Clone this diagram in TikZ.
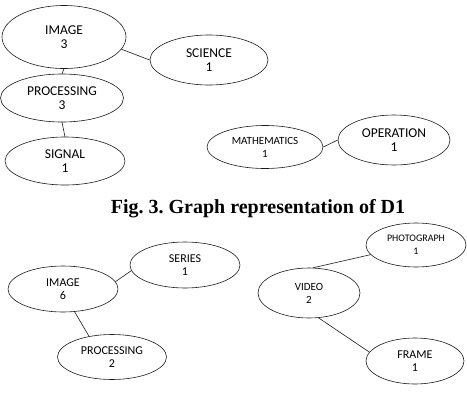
\documentclass[tikz,border=0pt]{standalone}
\usepackage{fontspec}
\setmainfont{Carlito}
\newfontfamily\capfont{Liberation Serif}
\usetikzlibrary{shapes.geometric}
\definecolor{ink}{HTML}{1A1A1A}
\frenchspacing

\begin{document}
\begin{tikzpicture}[x=1pt, y=-1pt,
  term/.style={draw=ink, ellipse, line width=.6pt, inner sep=0pt, align=center,
    font=\fontsize{12}{13.5}\selectfont},
  bigterm/.style={term, font=\fontsize{13.5}{14.5}\selectfont},
  link/.style={draw=ink, line width=.6pt}
]
  \useasboundingbox (0,0) rectangle (467,400);

  % graph of D1
  \node[bigterm, minimum width=124, minimum height=63] (image3) at (64,37) {IMAGE\\3};
  \node[bigterm, minimum width=118, minimum height=50] (science) at (209,60) {SCIENCE\\1};
  \node[bigterm, minimum width=123, minimum height=48] (processing3) at (62,98) {PROCESSING\\3};
  \node[bigterm, minimum width=120, minimum height=48] (signal) at (65,161) {SIGNAL\\1};
  \node[term, minimum width=116, minimum height=43, font=\fontsize{11}{13}\selectfont] (maths) at (265,147) {MATHEMATICS\\1};
  \node[bigterm, minimum width=112, minimum height=50] (operation) at (394,140) {OPERATION\\1};

  \draw[link] (image3.south) -- (processing3.north);
  \draw[link] (processing3.south) -- (signal.north);
  \draw[link] (image3.-12) -- (science.west);
  \draw[link] (maths.east) -- (operation.west);

  \node[font=\capfont\bfseries\fontsize{20}{24}\selectfont, anchor=base] (caption) at (258,213) {Fig. 3. Graph representation of D1};

  % second graph
  \node[term, minimum width=110, minimum height=46] (image6) at (63,289) {IMAGE\\6};
  \node[term, minimum width=110, minimum height=46] (series) at (185,265) {SERIES\\1};
  \node[term, minimum width=109, minimum height=45] (processing2) at (112,357) {PROCESSING\\2};
  \node[term, minimum width=102, minimum height=50, font=\fontsize{11}{13}\selectfont] (video) at (309,293) {VIDEO\\2};
  \node[term, minimum width=100, minimum height=44, font=\fontsize{10}{13}\selectfont] (photo) at (416,245) {PHOTOGRAPH\\1};
  \node[term, minimum width=98, minimum height=46] (frame) at (415,361) {FRAME\\1};

  \draw[link] (image6.8) -- (series.186);
  \draw[link] (image6.-63) -- (processing2.138);
  \draw[link] (video.81) -- (photo.192);
  \draw[link] (video.-69) -- (frame.169);
\end{tikzpicture}
\end{document}
